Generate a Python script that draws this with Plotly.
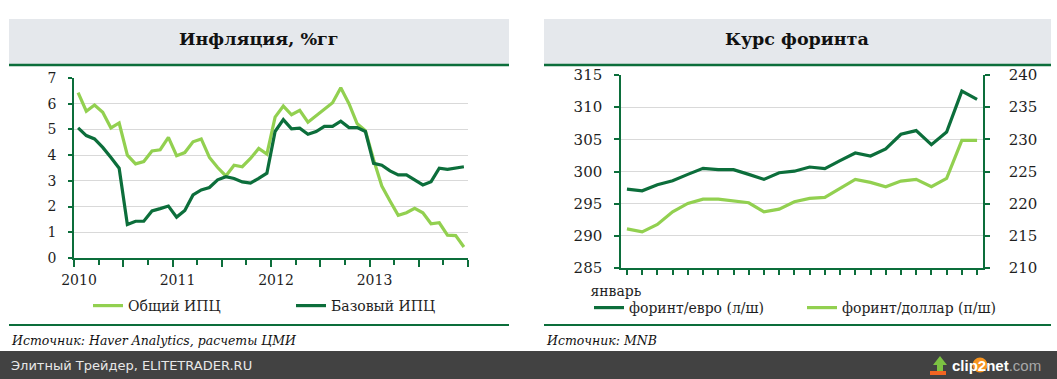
import plotly.graph_objects as go

W, H = 1057, 379

# ---------------- data ----------------
cpi_months = list(range(48))  # Jan 2010 .. Dec 2013
cpi_headline = [6.43, 5.71, 5.95, 5.67, 5.06, 5.25, 4.00, 3.66, 3.75, 4.16, 4.21, 4.69,
                3.98, 4.10, 4.52, 4.63, 3.91, 3.52, 3.19, 3.61, 3.55, 3.87, 4.26, 4.04,
                5.48, 5.91, 5.57, 5.74, 5.28, 5.54, 5.80, 6.04, 6.62, 6.00, 5.22, 4.95,
                3.82, 2.80, 2.22, 1.66, 1.76, 1.93, 1.76, 1.33, 1.37, 0.89, 0.87, 0.43]
cpi_core = [5.06, 4.76, 4.63, 4.30, 3.91, 3.49, 1.30, 1.43, 1.43, 1.83, 1.92, 2.02,
            1.59, 1.85, 2.45, 2.65, 2.74, 3.04, 3.16, 3.09, 2.96, 2.91, 3.10, 3.30,
            4.92, 5.38, 5.02, 5.05, 4.81, 4.92, 5.12, 5.12, 5.32, 5.07, 5.07, 4.92,
            3.68, 3.61, 3.39, 3.23, 3.23, 3.02, 2.84, 2.97, 3.49, 3.45, 3.49, 3.55]
year_labels = ["2010", "2011", "2012", "2013"]

fx_points = list(range(24))
huf_eur = [297.27, 297.00, 297.94, 298.57, 299.55, 300.49, 300.28, 300.28, 299.55, 298.77,
           299.81, 300.05, 300.70, 300.44, 301.68, 302.88, 302.41, 303.50, 305.79, 306.36,
           304.18, 306.15, 312.49, 311.20]
huf_usd = [216.08, 215.61, 216.76, 218.73, 220.03, 220.71, 220.71, 220.45, 220.14, 218.73,
           219.15, 220.29, 220.81, 220.97, 222.37, 223.77, 223.31, 222.63, 223.51, 223.77,
           222.63, 223.93, 229.85, 229.85]
fx_first_label = "январь"

# ---------------- styles ----------------
DARK = "#0c6e3b"
LIGHT = "#92d050"
AXIS = "#0c6e3b"
GRID = "#d9d9d9"
TXT = "#1e1e1e"
SERIF = "DejaVu Serif"


def px(x):
    return x / W


def py(y):
    return 1 - y / H


fig = go.Figure()

fig.add_trace(go.Scatter(x=cpi_months, y=cpi_headline, mode="lines", name="Общий ИПЦ",
                         line=dict(color=LIGHT, width=3.2), xaxis="x", yaxis="y", legend="legend"))
fig.add_trace(go.Scatter(x=cpi_months, y=cpi_core, mode="lines", name="Базовый ИПЦ",
                         line=dict(color=DARK, width=3.2), xaxis="x", yaxis="y", legend="legend"))
fig.add_trace(go.Scatter(x=fx_points, y=huf_eur, mode="lines", name="форинт/евро (л/ш)",
                         line=dict(color=DARK, width=3.2), xaxis="x2", yaxis="y2", legend="legend2"))
fig.add_trace(go.Scatter(x=fx_points, y=huf_usd, mode="lines", name="форинт/доллар (п/ш)",
                         line=dict(color=LIGHT, width=3.2), xaxis="x2", yaxis="y3", legend="legend2"))

# left chart ticks
n = len(cpi_months)
half_year = [i - 0.5 for i in range(0, n + 1, 6)]
half_text = []
for i in range(0, n + 1, 6):
    half_text.append(year_labels[i // 12] if (i % 12 == 0 and i // 12 < len(year_labels)) else "")
quarter = [i - 0.5 for i in range(3, n, 6)]

tickfont = dict(family=SERIF, size=14, color=TXT)

fig.update_layout(
    template="none",
    width=W, height=H,
    margin=dict(l=0, r=0, t=0, b=0, pad=0, autoexpand=False),
    paper_bgcolor="white", plot_bgcolor="white",
    xaxis=dict(domain=[px(74), px(468)], range=[-0.5, n - 0.5], anchor="y", automargin=False,
               tickmode="array", tickvals=half_year, ticktext=half_text,
               ticks="outside", ticklen=7, tickwidth=1.5, tickcolor=AXIS,
               showline=True, linecolor=AXIS, linewidth=1.5, showgrid=False, zeroline=False,
               tickfont=tickfont, ticklabelshift=5, ticklabelstandoff=1,
               minor=dict(tickmode="array", tickvals=quarter, ticks="outside", ticklen=5,
                          tickwidth=1.5, tickcolor=AXIS, showgrid=False)),
    # overlay axis only to draw the upward part of the half-year ticks
    xaxis3=dict(overlaying="x", anchor="y", range=[-0.5, n - 0.5], automargin=False,
                tickmode="array", tickvals=half_year, ticktext=[""] * len(half_year),
                ticks="inside", ticklen=5, tickwidth=1.5, tickcolor=AXIS,
                showline=False, showgrid=False, zeroline=False, showticklabels=False),
    yaxis=dict(domain=[py(258), py(78)], range=[0, 7], anchor="x", automargin=False,
               tickmode="linear", tick0=0, dtick=1,
               ticks="outside", ticklen=4, tickwidth=1.5, tickcolor=AXIS,
               showline=True, linecolor=AXIS, linewidth=1.5,
               showgrid=True, gridcolor=GRID, gridwidth=1.2, zeroline=False,
               tickfont=tickfont, ticklabelstandoff=9),
    xaxis2=dict(domain=[px(621), px(983)], range=[-0.39, len(fx_points) - 1 + 0.39], anchor="y2",
                automargin=False, tickmode="array", tickvals=fx_points,
                ticktext=[fx_first_label] + [""] * (len(fx_points) - 1),
                ticks="outside", ticklen=5, tickwidth=1.5, tickcolor=AXIS,
                showline=True, linecolor=AXIS, linewidth=1.5, showgrid=False, zeroline=False,
                tickfont=tickfont, ticklabelshift=-11, ticklabelstandoff=4),
    yaxis2=dict(domain=[py(268), py(75)], range=[285, 315], anchor="x2", automargin=False,
                tickmode="linear", tick0=285, dtick=5,
                ticks="outside", ticklen=5, tickwidth=1.5, tickcolor=AXIS,
                showline=True, linecolor=AXIS, linewidth=1.5,
                showgrid=True, gridcolor=GRID, gridwidth=1.2, zeroline=False,
                tickfont=dict(family=SERIF, size=15, color=TXT), ticklabelstandoff=9),
    yaxis3=dict(range=[210, 240], overlaying="y2", side="right", anchor="x2", automargin=False,
                tickmode="linear", tick0=210, dtick=5,
                ticks="outside", ticklen=5, tickwidth=1.5, tickcolor=AXIS,
                showline=True, linecolor=AXIS, linewidth=1.5,
                showgrid=False, zeroline=False,
                tickfont=dict(family=SERIF, size=15, color=TXT), ticklabelstandoff=16),
    legend=dict(orientation="h", x=px(88), y=py(306), xanchor="left", yanchor="middle",
                font=dict(family=SERIF, size=14, color=TXT), bgcolor="rgba(0,0,0,0)",
                entrywidthmode="pixels", entrywidth=158, itemwidth=30),
    legend2=dict(orientation="h", x=px(589), y=py(308), xanchor="left", yanchor="middle",
                 font=dict(family=SERIF, size=14, color=TXT), bgcolor="rgba(0,0,0,0)",
                 entrywidthmode="pixels", entrywidth=168, itemwidth=30),
    showlegend=True,
)

shapes = []
# title boxes
for (x0, x1) in [(9, 509), (544, 1051)]:
    shapes.append(dict(type="rect", xref="paper", yref="paper", x0=px(x0), x1=px(x1),
                       y0=py(64), y1=py(19), fillcolor="#e5e8ec", line=dict(width=0), layer="below"))
    shapes.append(dict(type="line", xref="paper", yref="paper", x0=px(x0), x1=px(x1),
                       y0=py(65), y1=py(65), line=dict(color=AXIS, width=2.5)))
    shapes.append(dict(type="line", xref="paper", yref="paper", x0=px(x0), x1=px(x1),
                       y0=py(325), y1=py(325), line=dict(color=AXIS, width=2.2)))
# bottom dark bar
shapes.append(dict(type="rect", xref="paper", yref="paper", x0=0, x1=1, y0=0, y1=py(351),
                   fillcolor="#424242", line=dict(width=0)))
# clip2net arrow icon
shapes.append(dict(type="path", xref="paper", yref="paper",
                   path="M {},{} L {},{} L {},{} L {},{} L {},{} L {},{} L {},{} Z".format(
                       px(933), py(365), px(940), py(356), px(947), py(365), px(943), py(365),
                       px(943), py(371), px(937), py(371), px(937), py(365)),
                   fillcolor="#7cc242", line=dict(width=0)))
shapes.append(dict(type="rect", xref="paper", yref="paper", x0=px(930), x1=px(946),
                   y0=py(375), y1=py(371), fillcolor="#f26522", line=dict(width=0)))
shapes.append(dict(type="circle", xref="paper", yref="paper", x0=px(972.5), x1=px(987.5),
                   y0=py(372.5), y1=py(357.5), fillcolor="#f7931e", line=dict(width=0)))
fig.update_layout(shapes=shapes)

ann = []
ann.append(dict(text="<b>Инфляция, %гг</b>", x=px(259), y=py(39), xref="paper", yref="paper",
                showarrow=False, font=dict(family=SERIF, size=17.5, color="#111111"),
                xanchor="center", yanchor="middle"))
ann.append(dict(text="<b>Курс форинта</b>", x=px(797), y=py(39), xref="paper", yref="paper",
                showarrow=False, font=dict(family=SERIF, size=17.5, color="#111111"),
                xanchor="center", yanchor="middle"))
ann.append(dict(text="<i>Источник: Haver Analytics, расчеты ЦМИ</i>", x=px(9), y=py(340),
                xref="paper", yref="paper", showarrow=False, xanchor="left", yanchor="middle",
                font=dict(family=SERIF, size=12.5, color="#111111")))
ann.append(dict(text="<i>Источник: MNB</i>", x=px(544), y=py(340),
                xref="paper", yref="paper", showarrow=False, xanchor="left", yanchor="middle",
                font=dict(family=SERIF, size=12.5, color="#111111")))
ann.append(dict(text="Элитный Трейдер, ELITETRADER.RU", x=px(9), y=py(365),
                xref="paper", yref="paper", showarrow=False, xanchor="left", yanchor="middle",
                font=dict(family="DejaVu Sans", size=13, color="#e8e8e8")))
ann.append(dict(text="<b>clip2net</b><span style='color:#a8a8a8'>.com</span>", x=px(950), y=py(365),
                xref="paper", yref="paper", showarrow=False, xanchor="left", yanchor="middle",
                font=dict(family="Liberation Sans", size=15, color="white")))
fig.update_layout(annotations=ann)

fig.write_html("out.html",
               config=dict(displayModeBar=False),
               post_script="document.body.style.margin='0';document.body.style.padding='0';"
                           "document.documentElement.style.overflow='hidden';")
